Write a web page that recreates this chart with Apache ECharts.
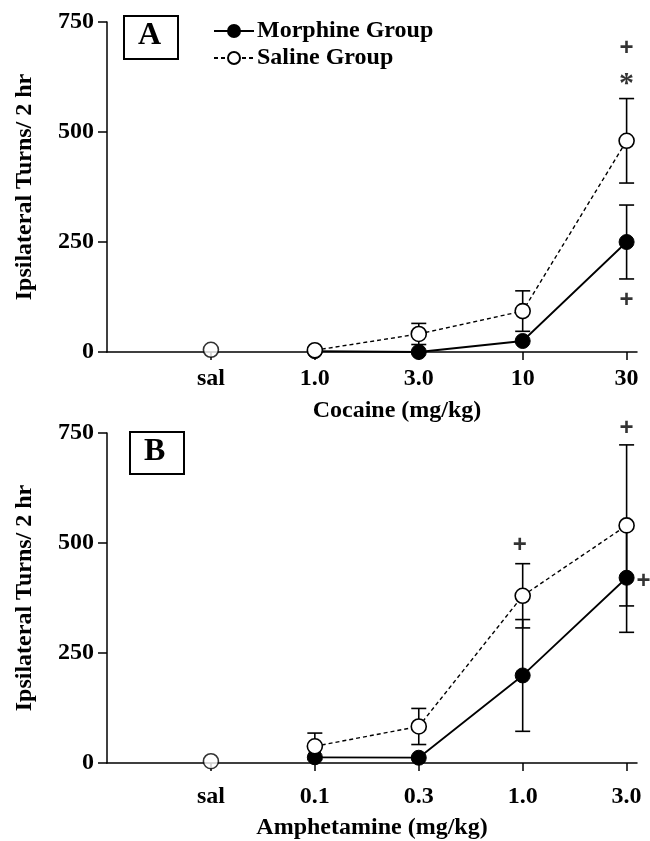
<!DOCTYPE html>
<html><head><meta charset="utf-8">
<script src="https://cdn.jsdelivr.net/npm/echarts@6/dist/echarts.min.js"></script>
<style>html,body{margin:0;padding:0;background:#fff}#c{width:650px;height:841px}</style>
</head><body><div id="c"></div>
<script>
// ---- data ----
const catsA = ['sal', '1.0', '3.0', '10', '30'];
const catsB = ['sal', '0.1', '0.3', '1.0', '3.0'];
const yTicks = [0, 250, 500, 750];
// values per category (index 0 = sal)
const morphA   = [null, 2, 0, 25, 250];
const morphAse = [null, 0, 0, 0, 84];
const salA     = [5, 4, 41, 93, 480];
const salAse   = [0, 0, 24, 46, 96];
const morphB   = [null, 13, 12, 199, 421];
const morphBse = [null, 0, 0, 127, 124];
const salB     = [4, 38, 83, 380, 540];
const salBse   = [0, 30, 41, 73, 183];
// annotations: [category index, value, text]
const annotA = [[4, 690, '+'], [4, 608, '*'], [4, 118, '+']];
const annotB = [[3, 495, '+'], [4, 761, '+'], [4, 412, '+']];

// ---- styles ----
const FONT = '"Liberation Serif", "Times New Roman", serif';
const SANS = '"Liberation Sans", Arial, sans-serif';
const annotOffsetB = [[-3, 0], [0, 0], [17, 0]];

const chart = echarts.init(document.getElementById('c'), null, {renderer: 'canvas'});

function xAxisFor(cats, gi, nameOffset, labelMargin, nameGap) {
  return {
    type: 'value', gridIndex: gi, min: 0, max: 5.1, interval: 1,
    name: gi === 0 ? 'Cocaine (mg/kg)' : 'Amphetamine (mg/kg)',
    nameLocation: 'middle', nameGap: nameGap,
    nameTextStyle: {fontFamily: FONT, fontWeight: 'bold', fontSize: 24, color: '#000', padding: [0, 0, 0, nameOffset]},
    axisLine: {onZero: false, lineStyle: {color: '#000', width: 1.5}},
    axisTick: {length: 8, lineStyle: {color: '#000', width: 1.5}, customValues: [1, 2, 3, 4, 5]},
    splitLine: {show: false},
    axisLabel: {
      customValues: [1, 2, 3, 4, 5],
      formatter: v => cats[Math.round(v) - 1] || '',
      margin: labelMargin, fontFamily: FONT, fontWeight: 'bold', fontSize: 24, color: '#000'
    }
  };
}
function yAxisFor(gi) {
  return {
    type: 'value', gridIndex: gi, min: yTicks[0], max: yTicks[yTicks.length - 1], interval: 250,
    name: 'Ipsilateral Turns/ 2 hr', nameLocation: 'middle', nameGap: 70,
    nameTextStyle: {fontFamily: FONT, fontWeight: 'bold', fontSize: 24, color: '#000'},
    axisLine: {show: true, lineStyle: {color: '#000', width: 1.5}},
    axisTick: {show: true, length: 9, lineStyle: {color: '#000', width: 1.5}},
    splitLine: {show: false},
    axisLabel: {margin: 13, fontFamily: FONT, fontWeight: 'bold', fontSize: 24, color: '#000'}
  };
}

function pts(arr, fromIdx) {
  const out = [];
  for (let i = fromIdx; i < arr.length; i++) if (arr[i] != null) out.push([i + 1, arr[i]]);
  return out;
}
function errData(vals, se) {
  const out = [];
  vals.forEach((v, i) => { if (v != null && se[i]) out.push([i + 1, v - se[i], v + se[i]]); });
  return out;
}
function renderErr(params, api) {
  const x = api.value(0), lo = api.value(1), hi = api.value(2);
  const a = api.coord([x, hi]), b = api.coord([x, lo]);
  const w = 7.5, st = {stroke: '#000', lineWidth: 1.6};
  return {type: 'group', children: [
    {type: 'line', shape: {x1: a[0], y1: a[1], x2: b[0], y2: b[1]}, style: st},
    {type: 'line', shape: {x1: a[0] - w, y1: a[1], x2: a[0] + w, y2: a[1]}, style: st},
    {type: 'line', shape: {x1: b[0] - w, y1: b[1], x2: b[0] + w, y2: b[1]}, style: st}
  ]};
}

const filledSym = {color: '#000', borderColor: '#000', borderWidth: 1};
const openSym = {color: '#fff', borderColor: '#000', borderWidth: 1.6};

function panelSeries(gi, morph, morphSe, sal, salSe, annot, offs) {
  return [
    {type: 'custom', name: 'err' + gi, xAxisIndex: gi, yAxisIndex: gi, renderItem: renderErr,
     data: errData(morph, morphSe).concat(errData(sal, salSe)), z: 1, silent: true},
    {type: 'line', name: 'Morphine Group', xAxisIndex: gi, yAxisIndex: gi, data: pts(morph, 1),
     symbol: 'circle', symbolSize: 15, showSymbol: true, lineStyle: {color: '#000', width: 1.8},
     itemStyle: filledSym, z: 3, animation: false},
    {type: 'line', name: 'Saline Group', xAxisIndex: gi, yAxisIndex: gi, data: pts(sal, 1),
     symbol: 'circle', symbolSize: 15, showSymbol: true,
     lineStyle: {color: '#000', width: 1.4, type: [4, 3]},
     itemStyle: openSym, z: 4, animation: false},
    {type: 'scatter', name: 'salctl' + gi, xAxisIndex: gi, yAxisIndex: gi, data: [[1, sal[0]]],
     symbol: 'circle', symbolSize: 15, itemStyle: openSym, z: 4, animation: false},
    {type: 'scatter', name: 'annot' + gi, xAxisIndex: gi, yAxisIndex: gi, clip: false,
     symbol: 'circle', symbolSize: 1, itemStyle: {color: 'rgba(0,0,0,0)'}, z: 5, animation: false,
     data: annot.map((a, i) => ({value: [a[0] + 1, a[1]], name: a[2],
       label: {offset: offs ? offs[i] : [0, 0], fontSize: a[2] === '*' ? 30 : 24,
               fontFamily: a[2] === '*' ? FONT : SANS}})),
     label: {show: true, position: 'inside', formatter: '{b}', fontWeight: 'bold', color: '#000'}}
  ];
}

const option = {
  backgroundColor: '#fff',
  animation: false,
  grid: [
    {left: 107, top: 22, width: 530, height: 330},
    {left: 107, top: 433, width: 530, height: 332}
  ],
  xAxis: [xAxisFor(catsA, 0, 50, 15, 47), xAxisFor(catsB, 1, 0, 22, 53)],
  yAxis: [yAxisFor(0), yAxisFor(1)],
  legend: {
    data: ['Morphine Group', 'Saline Group'], orient: 'vertical', left: 208, top: 14,
    itemWidth: 40, itemHeight: 15, itemGap: 3,
    textStyle: {fontFamily: FONT, fontWeight: 'bold', fontSize: 24, color: '#000', padding: [0, 0, 0, -2]},
    selectedMode: false
  },
  graphic: [
    {type: 'rect', left: 123, top: 15, shape: {width: 54, height: 43}, style: {fill: '#fff', stroke: '#000', lineWidth: 2}},
    {type: 'text', left: 138, top: 20, style: {text: 'A', font: 'bold 32px ' + FONT, fill: '#000'}},
    {type: 'rect', left: 129, top: 431, shape: {width: 54, height: 42}, style: {fill: '#fff', stroke: '#000', lineWidth: 2}},
    {type: 'text', left: 144, top: 436, style: {text: 'B', font: 'bold 32px ' + FONT, fill: '#000'}}
  ],
  series: [].concat(
    panelSeries(0, morphA, morphAse, salA, salAse, annotA, null),
    panelSeries(1, morphB, morphBse, salB, salBse, annotB, annotOffsetB)
  )
};
chart.setOption(option);
</script></body></html>
